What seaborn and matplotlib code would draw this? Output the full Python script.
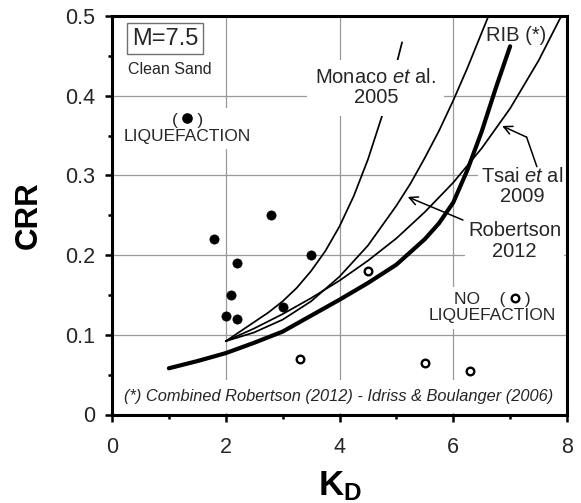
import matplotlib
matplotlib.use("Agg")
import matplotlib.pyplot as plt
import numpy as np
import pandas as pd
import seaborn as sns
from matplotlib.ticker import FixedLocator, FixedFormatter, MultipleLocator

# ---------------- data ----------------
monaco_kd = [2.0, 2.25, 2.5, 2.75, 3.0, 3.25, 3.5, 3.75, 4.0, 4.25, 4.5, 4.75, 5.0, 5.1]
monaco_crr = [0.092, 0.104, 0.116, 0.128, 0.142, 0.159, 0.180, 0.205, 0.236, 0.274, 0.320, 0.375, 0.439, 0.467]

robertson_kd = [2.0, 2.5, 3.0, 3.5, 4.0, 4.5, 5.0, 5.25, 5.5, 5.75, 6.0, 6.25, 6.5, 6.62]
robertson_crr = [0.092, 0.103, 0.119, 0.142, 0.173, 0.212, 0.262, 0.290, 0.322, 0.356, 0.394, 0.435, 0.479, 0.500]

tsai_kd = [2.0, 2.5, 3.0, 3.5, 4.0, 4.5, 5.0, 5.5, 6.0, 6.5, 7.0, 7.5, 7.9]
tsai_crr = [0.092, 0.108, 0.126, 0.146, 0.168, 0.193, 0.221, 0.254, 0.291, 0.334, 0.384, 0.444, 0.500]

rib_kd = [1.0, 1.5, 2.0, 2.5, 3.0, 3.5, 4.0, 4.5, 5.0, 5.5, 5.75, 6.0, 6.25, 6.5, 6.75, 7.0]
rib_crr = [0.058, 0.067, 0.077, 0.090, 0.104, 0.124, 0.144, 0.165, 0.188, 0.220, 0.240, 0.266, 0.307, 0.355, 0.410, 0.462]

liq_kd = [1.8, 2.0, 2.1, 2.2, 2.2, 2.8, 3.0, 3.5]
liq_crr = [0.220, 0.123, 0.150, 0.190, 0.120, 0.250, 0.135, 0.200]

noliq_kd = [3.3, 4.5, 5.5, 6.3]
noliq_crr = [0.070, 0.180, 0.065, 0.055]

x_ticks = [0, 2, 4, 6, 8]
x_ticklabels = ["0", "2", "4", "6", "8"]
y_ticks = [0.0, 0.1, 0.2, 0.3, 0.4, 0.5]
y_ticklabels = ["0", "0.1", "0.2", "0.3", "0.4", "0.5"]

# ---------------- style ----------------
sns.set_theme(style="white")
plt.rcParams["font.family"] = ["Liberation Sans", "DejaVu Sans"]
plt.rcParams["mathtext.fontset"] = "custom"
plt.rcParams["mathtext.rm"] = "Liberation Sans"
plt.rcParams["mathtext.it"] = "Liberation Sans:italic"
plt.rcParams["mathtext.bf"] = "Liberation Sans:bold"

fig = plt.figure(figsize=(5.81, 5.03), dpi=100)
ax = fig.add_axes([112 / 581, 1 - 414.5 / 503, 455 / 581, 398.5 / 503])

# curves
curves = [
    (monaco_kd, monaco_crr, 1.25),
    (robertson_kd, robertson_crr, 1.25),
    (tsai_kd, tsai_crr, 1.25),
    (rib_kd, rib_crr, 3.0),
]
for kd, crr, lw in curves:
    df = pd.DataFrame({"KD": kd, "CRR": crr})
    sns.lineplot(data=df, x="KD", y="CRR", ax=ax, color="black", linewidth=lw,
                 sort=False, estimator=None, zorder=2)

# points
sns.scatterplot(x=liq_kd, y=liq_crr, ax=ax, color="black", s=44, edgecolor="black",
                linewidth=0.5, zorder=5)
sns.scatterplot(x=noliq_kd, y=noliq_crr, ax=ax, facecolor="white", edgecolor="black",
                linewidth=1.7, s=30, zorder=5)

# axes
ax.set_xlim(0, 8)
ax.set_ylim(0, 0.5)
ax.xaxis.set_major_locator(FixedLocator(x_ticks))
ax.xaxis.set_major_formatter(FixedFormatter(x_ticklabels))
ax.yaxis.set_major_locator(FixedLocator(y_ticks))
ax.yaxis.set_major_formatter(FixedFormatter(y_ticklabels))
ax.xaxis.set_minor_locator(MultipleLocator(1))
ax.yaxis.set_minor_locator(MultipleLocator(0.05))
ax.tick_params(which="major", direction="out", length=5, width=1.8, color="black",
               labelsize=15.5, bottom=True, left=True, top=False, right=False)
ax.tick_params(which="minor", direction="out", length=3, width=1.8, color="black",
               bottom=True, left=True, top=False, right=False)
ax.tick_params(axis="x", which="major", pad=11)
ax.tick_params(axis="y", which="major", pad=7)
for sp in ax.spines.values():
    sp.set_visible(True)
    sp.set_color("black")
    sp.set_linewidth(2.2)
    sp.set_zorder(10)

ax.set_axisbelow(True)
ax.grid(True, which="major", color="#9a9a9a", linewidth=0.9)

ax.set_ylabel("CRR", fontsize=22.5, fontweight="bold", color="black")
ax.yaxis.set_label_coords(-0.150, 0.5)
ax.set_xlabel(r"$\mathbf{K}_{\mathbf{D}}$", fontsize=25, color="black")
ax.xaxis.set_label_coords(0.5, -0.137)

white_box = dict(boxstyle="square,pad=0.15", fc="white", ec="none")

# annotations
ax.text(0.937, 0.4715, "M=7.5", fontsize=17, ha="center", va="center", zorder=6,
        bbox=dict(boxstyle="square,pad=0.2", fc="white", ec="#707070", lw=1))
ax.text(1.01, 0.433, "Clean Sand", fontsize=11.5, ha="center", va="center", zorder=6)

ax.text(1.32, 0.359, "(    )\nLIQUEFACTION", fontsize=12.5, ha="center", va="center",
        linespacing=1.1, zorder=4,
        bbox=dict(boxstyle="square,pad=0.3", fc="white", ec="none"))
ax.scatter([1.32], [0.3715], s=44, color="black", zorder=6)

ax.text(6.69, 0.134, "NO    (    )\nLIQUEFACTION", fontsize=12.5, ha="center", va="center",
        linespacing=1.1, zorder=4,
        bbox=dict(boxstyle="square,pad=0.3", fc="white", ec="none"))
ax.scatter([7.08], [0.1465], s=30, facecolor="white", edgecolor="black", linewidth=1.7, zorder=6)

ax.text(4.64, 0.410, "Monaco $\\mathit{et}$ al.\n2005", fontsize=14.5, ha="center", va="center",
        linespacing=1.1, zorder=4,
        bbox=dict(boxstyle="square,pad=0.4", fc="white", ec="none"))

ax.text(7.11, 0.476, "RIB (*)", fontsize=14.5, ha="center", va="center", zorder=6)

ax.text(7.21, 0.286, "Tsai $\\mathit{et}$ al\n2009", fontsize=14.5, ha="center", va="center",
        linespacing=1.1, zorder=4, bbox=white_box)
ax.plot([7.47, 7.29], [0.311, 0.348], color="black", lw=1.1, zorder=4)
ax.annotate("", xy=(6.86, 0.362), xytext=(7.29, 0.348), zorder=4,
            arrowprops=dict(arrowstyle="->,head_length=0.5,head_width=0.25",
                            color="black", lw=1.1, shrinkA=0, shrinkB=0))

ax.text(7.08, 0.218, "Robertson\n2012", fontsize=14.5, ha="center", va="center",
        linespacing=1.15, zorder=4, bbox=white_box)
ax.annotate("", xy=(5.2, 0.273), xytext=(6.17, 0.244), zorder=4,
            arrowprops=dict(arrowstyle="->,head_length=0.5,head_width=0.25",
                            color="black", lw=1.1, shrinkA=0, shrinkB=0))

ax.text(3.98, 0.023, "(*) Combined Robertson (2012) - Idriss & Boulanger (2006)",
        fontsize=11.8, style="italic", ha="center", va="center", zorder=4,
        bbox=dict(boxstyle="square,pad=0.55", fc="white", ec="none"))

fig.savefig("out.png", dpi=100, facecolor="white")
